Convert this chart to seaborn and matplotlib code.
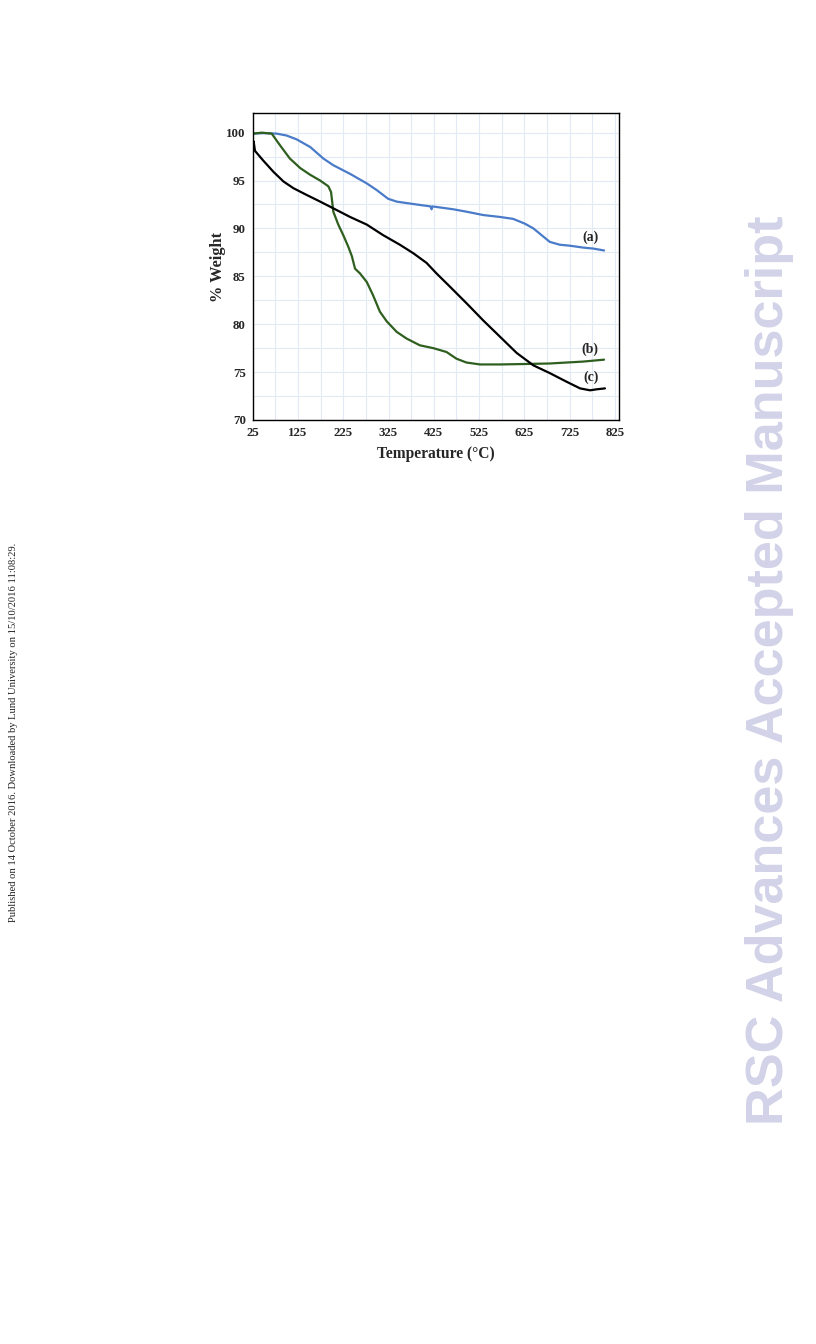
import numpy as np
import pandas as pd
import seaborn as sns
import matplotlib.pyplot as plt
from matplotlib.ticker import MultipleLocator, FixedLocator

# TGA curves
temp_a = [25, 50, 78, 100, 122, 152, 181, 203, 240, 277, 299, 324, 343, 387, 418, 420, 422, 468, 497, 534, 571, 600, 626, 645, 663, 681, 703, 725, 755, 777, 801]
weight_a = [99.9, 99.95, 99.9, 99.7, 99.3, 98.5, 97.3, 96.6, 95.7, 94.7, 94.0, 93.1, 92.8, 92.5, 92.3, 92.0, 92.3, 92.0, 91.75, 91.4, 91.2, 91.0, 90.5, 90.0, 89.3, 88.6, 88.3, 88.2, 88.0, 87.9, 87.7]

temp_b = [25, 45, 67, 85, 107, 130, 152, 174, 192, 198, 200, 203, 214, 225, 236, 244, 251, 262, 277, 291, 306, 321, 343, 365, 394, 424, 453, 475, 497, 527, 571, 630, 681, 718, 755, 801]
weight_b = [99.9, 100.0, 99.9, 98.7, 97.3, 96.3, 95.6, 95.0, 94.4, 93.8, 93.0, 91.75, 90.4, 89.3, 88.1, 87.1, 85.8, 85.3, 84.4, 83.0, 81.3, 80.3, 79.2, 78.5, 77.8, 77.5, 77.1, 76.4, 76.0, 75.8, 75.8, 75.85, 75.9, 76.0, 76.1, 76.3]

temp_c = [26, 27, 30, 48, 71, 93, 115, 144, 174, 203, 240, 277, 313, 350, 380, 409, 431, 461, 497, 534, 571, 608, 645, 681, 718, 748, 770, 784, 803]
weight_c = [98.3, 99.1, 98.1, 97.1, 95.9, 94.9, 94.2, 93.5, 92.8, 92.1, 91.2, 90.4, 89.3, 88.3, 87.4, 86.4, 85.3, 83.9, 82.2, 80.4, 78.7, 77.0, 75.7, 74.9, 74.0, 73.3, 73.1, 73.2, 73.3]

labels = ['(a)', '(b)', '(c)']
label_x = [770, 770, 773]
label_y = [89.1, 77.4, 74.45]
colors = ['#4a7bc8', '#2f5f1f', '#000000']

x_ticks = [25, 125, 225, 325, 425, 525, 625, 725, 825]
y_ticks = [70, 75, 80, 85, 90, 95, 100]

sns.set_style('white')
plt.rcParams['font.family'] = ['Liberation Serif', 'DejaVu Serif']

fig = plt.figure(figsize=(8.16, 13.44), dpi=100)
ax = fig.add_axes([0.3097, 0.6875, 0.4489, 0.2284])

series = [(temp_a, weight_a), (temp_b, weight_b), (temp_c, weight_c)]
for (t, w), col in zip(series, colors):
    df = pd.DataFrame({'T': t, 'W': w})
    sns.lineplot(data=df, x='T', y='W', color=col, linewidth=1.6, ax=ax, sort=False)

for lab, lx, ly in zip(labels, label_x, label_y):
    ax.text(lx, ly, lab, fontsize=10, fontweight='bold', ha='center', va='center')

ax.set_xlim(25, 834)
ax.set_ylim(70, 102.05)
ax.xaxis.set_major_locator(FixedLocator(x_ticks))
ax.xaxis.set_minor_locator(FixedLocator([75, 175, 275, 375, 475, 575, 675, 775]))
ax.yaxis.set_major_locator(FixedLocator(y_ticks))
ax.yaxis.set_minor_locator(MultipleLocator(2.5))
ax.grid(which='both', color='#e2ebf5', linewidth=0.8)
ax.set_axisbelow(True)
ax.tick_params(which='both', direction='out', length=3, width=0.8, color='black')
ax.tick_params(which='major', labelsize=9.3, pad=2)
for lbl in ax.get_xticklabels() + ax.get_yticklabels():
    lbl.set_fontweight('bold')
for s in ax.spines.values():
    s.set_visible(True)
    s.set_color('black')
    s.set_linewidth(1.0)

ax.set_xlabel('Temperature (°C)', fontsize=11.2, fontweight='bold', labelpad=5)
ax.set_ylabel('% Weight', fontsize=11.8, fontweight='bold', labelpad=0)

# margin notes
fig.text(0.0160, 0.4554, 'Published on 14 October 2016. Downloaded by Lund University on 15/10/2016 11:08:29.',
         rotation=90, fontsize=7.6, ha='center', va='center', color='#222222')
fig.text(0.943, 0.501, 'RSC Advances Accepted Manuscript', rotation=90, fontsize=37.6,
         fontweight='bold', family=['Liberation Sans', 'DejaVu Sans'], color='#d2d2e8',
         ha='center', va='center')

fig.savefig('out.png', dpi=100)
